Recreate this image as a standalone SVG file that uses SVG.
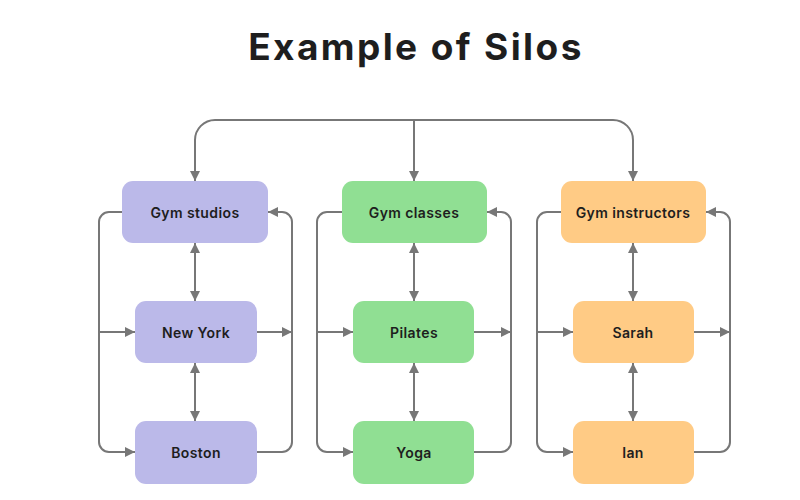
<svg xmlns="http://www.w3.org/2000/svg" width="800" height="500" viewBox="0 0 800 500">
<style>
.title{font-family:Inter,"Liberation Sans",sans-serif;font-weight:700;font-size:37px;letter-spacing:2.4px;fill:#1e1e1e;text-anchor:middle}
.lbl{font-family:Inter,"Liberation Sans",sans-serif;font-weight:600;font-size:14px;letter-spacing:0.4px;fill:#1e1e1e;text-anchor:middle;dominant-baseline:central}
.p{fill:#bbb9e9}.g{fill:#90df93}.o{fill:#ffcb85}
.c{fill:none;stroke:#777;stroke-width:2}
</style>
<defs>
<marker id="a" viewBox="0 0 10 10" refX="10" refY="5" markerWidth="10" markerHeight="10" markerUnits="userSpaceOnUse" orient="auto-start-reverse"><path d="M0,0L10,5L0,10z" fill="#777"/></marker>
</defs>
<rect width="800" height="500" fill="#fff"/>
<text class="title" x="416" y="60">Example of Silos</text>
<g id="connectors">
<path class="c" d="M195,181V140a20,20 0 0 1 20,-20H613a20,20 0 0 1 20,20V181" marker-start="url(#a)" marker-end="url(#a)"/>
<path class="c" d="M414,120V181" marker-end="url(#a)"/>
<path class="c" d="M122,212H109a10,10 0 0 0 -10,10V442a10,10 0 0 0 10,10H135" marker-end="url(#a)"/>
<path class="c" d="M99,332H135" marker-end="url(#a)"/>
<path class="c" d="M257,452H282a10,10 0 0 0 10,-10V222a10,10 0 0 0 -10,-10H268" marker-end="url(#a)"/>
<path class="c" d="M257,332H292" marker-end="url(#a)"/>
<path class="c" d="M195,243V301" marker-start="url(#a)" marker-end="url(#a)"/>
<path class="c" d="M195,363V421" marker-start="url(#a)" marker-end="url(#a)"/>
<path class="c" d="M342,212H327a10,10 0 0 0 -10,10V442a10,10 0 0 0 10,10H353" marker-end="url(#a)"/>
<path class="c" d="M317,332H353" marker-end="url(#a)"/>
<path class="c" d="M474,452H501a10,10 0 0 0 10,-10V222a10,10 0 0 0 -10,-10H487" marker-end="url(#a)"/>
<path class="c" d="M474,332H511" marker-end="url(#a)"/>
<path class="c" d="M414,243V301" marker-start="url(#a)" marker-end="url(#a)"/>
<path class="c" d="M414,363V421" marker-start="url(#a)" marker-end="url(#a)"/>
<path class="c" d="M561,212H547a10,10 0 0 0 -10,10V442a10,10 0 0 0 10,10H573" marker-end="url(#a)"/>
<path class="c" d="M537,332H573" marker-end="url(#a)"/>
<path class="c" d="M694,452H720a10,10 0 0 0 10,-10V222a10,10 0 0 0 -10,-10H706" marker-end="url(#a)"/>
<path class="c" d="M694,332H730" marker-end="url(#a)"/>
<path class="c" d="M633,243V301" marker-start="url(#a)" marker-end="url(#a)"/>
<path class="c" d="M633,363V421" marker-start="url(#a)" marker-end="url(#a)"/>
</g>
<g id="gym-studios"><rect class="p" x="122" y="181" width="146" height="62" rx="11"/><text class="lbl" x="195" y="212">Gym studios</text></g>
<g id="new-york"><rect class="p" x="135" y="301" width="122" height="62" rx="11"/><text class="lbl" x="196" y="332">New York</text></g>
<g id="boston"><rect class="p" x="135" y="421" width="122" height="63" rx="11"/><text class="lbl" x="196" y="452">Boston</text></g>
<g id="gym-classes"><rect class="g" x="342" y="181" width="145" height="62" rx="11"/><text class="lbl" x="414" y="212">Gym classes</text></g>
<g id="pilates"><rect class="g" x="353" y="301" width="121" height="62" rx="11"/><text class="lbl" x="414" y="332">Pilates</text></g>
<g id="yoga"><rect class="g" x="353" y="421" width="121" height="63" rx="11"/><text class="lbl" x="414" y="452">Yoga</text></g>
<g id="gym-instructors"><rect class="o" x="561" y="181" width="145" height="62" rx="11"/><text class="lbl" x="633" y="212">Gym instructors</text></g>
<g id="sarah"><rect class="o" x="573" y="301" width="121" height="62" rx="11"/><text class="lbl" x="633" y="332">Sarah</text></g>
<g id="ian"><rect class="o" x="573" y="421" width="121" height="63" rx="11"/><text class="lbl" x="633" y="452">Ian</text></g>
</svg>
